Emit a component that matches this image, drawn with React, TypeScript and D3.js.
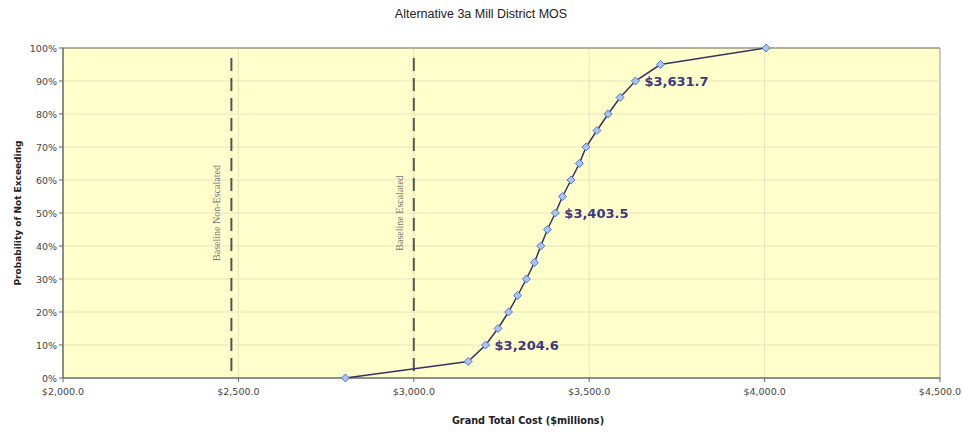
import React from "react";
import * as d3 from "d3";

const probabilities = [0, 5, 10, 15, 20, 25, 30, 35, 40, 45, 50, 55, 60, 65, 70, 75, 80, 85, 90, 95, 100];
const costs = [2805, 3155, 3204.6, 3240, 3270, 3296, 3321, 3344, 3362, 3381, 3403.5, 3424, 3448, 3472, 3491, 3522, 3554, 3588, 3631.7, 3703, 4004];
const labelledCosts = [3204.6, 3403.5, 3631.7];
const baselines = [
  { name: "Baseline Non-Escalated", value: 2480 },
  { name: "Baseline Escalated", value: 3000 },
];
const xTicks = [2000, 2500, 3000, 3500, 4000, 4500];
const yTicks = [0, 10, 20, 30, 40, 50, 60, 70, 80, 90, 100];

const W = 962;
const H = 433;
const M = { left: 63, right: 940, top: 48, bottom: 378 };

export default function App() {
  const x = d3.scaleLinear().domain([2000, 4500]).range([M.left, M.right]);
  const y = d3.scaleLinear().domain([0, 100]).range([M.bottom, M.top]);
  const pts = costs.map((c, i) => ({ c, p: probabilities[i] }));
  const line = d3.line<{ c: number; p: number }>().x((d) => x(d.c)).y((d) => y(d.p));
  const fmt = (v: number) => "$" + d3.format(",.1f")(v);
  const font = "Verdana, 'DejaVu Sans', sans-serif";

  return (
    <svg width={W} height={H} style={{ position: "absolute", left: 0, top: 0, background: "#fff" }}>
      <text x={481} y={18} textAnchor="middle" fontFamily="'Liberation Sans Narrow', 'Liberation Sans', sans-serif" fontSize={12.5} fill="#222">
        Alternative 3a Mill District MOS
      </text>
      <rect x={M.left} y={M.top} width={M.right - M.left} height={M.bottom - M.top} fill="#FFFFCC" stroke="#999" strokeWidth={1} />
      {yTicks.map((t) => (
        <line key={"gy" + t} x1={M.left} x2={M.right} y1={y(t)} y2={y(t)} stroke="#e4e4c0" strokeWidth={1} />
      ))}
      {xTicks.slice(1, -1).map((t) => (
        <line key={"gx" + t} x1={x(t)} x2={x(t)} y1={M.top} y2={M.bottom} stroke="#e4e4c0" strokeWidth={1} />
      ))}
      <line x1={M.left} x2={M.right} y1={M.top} y2={M.top} stroke="#8a8a6a" strokeWidth={1.2} />
      <line x1={M.left} x2={M.right} y1={M.bottom} y2={M.bottom} stroke="#777" strokeWidth={1.5} />
      <line x1={M.left} x2={M.left} y1={M.top} y2={M.bottom} stroke="#777" strokeWidth={1.5} />
      {yTicks.map((t) => (
        <g key={"ty" + t}>
          <line x1={M.left - 4} x2={M.left} y1={y(t)} y2={y(t)} stroke="#666" />
          <text x={M.left - 6} y={y(t) + 3.5} textAnchor="end" fontFamily={font} fontSize={9.5} fill="#444">
            {t}%
          </text>
        </g>
      ))}
      {xTicks.map((t) => (
        <g key={"tx" + t}>
          <line x1={x(t)} x2={x(t)} y1={M.bottom} y2={M.bottom + 4} stroke="#666" />
          <text x={x(t)} y={M.bottom + 17} textAnchor="middle" fontFamily={font} fontSize={9.5} fill="#444">
            {fmt(t)}
          </text>
        </g>
      ))}
      {baselines.map((b) => (
        <g key={b.name}>
          <line x1={x(b.value)} x2={x(b.value)} y1={M.top + 10} y2={M.bottom} stroke="#555" strokeWidth={2} strokeDasharray="13,7" />
          <text
            transform={`translate(${x(b.value) - 11},${y(50)}) rotate(-90)`}
            textAnchor="middle"
            fontFamily="'Liberation Serif', serif"
            fontSize={10}
            fill="#777"
          >
            {b.name}
          </text>
        </g>
      ))}
      <path d={line(pts) ?? ""} fill="none" stroke="#333366" strokeWidth={1.5} />
      {pts.map((d, i) => {
        const cx = x(d.c);
        const cy = y(d.p);
        return (
          <path
            key={"m" + i}
            d={`M${cx},${cy - 4}L${cx + 4},${cy}L${cx},${cy + 4}L${cx - 4},${cy}Z`}
            fill="#a8c4f0"
            stroke="#5a78c8"
            strokeWidth={1}
          />
        );
      })}
      {pts
        .filter((d) => labelledCosts.includes(d.c))
        .map((d) => (
          <text key={"l" + d.c} x={x(d.c) + 9} y={y(d.p) + 5} fontFamily={font} fontSize={13} fontWeight="bold" fill="#3a3a80">
            {fmt(d.c)}
          </text>
        ))}
      <text x={528} y={424} textAnchor="middle" fontFamily={font} fontSize={9.7} fontWeight="bold" fill="#222">
        Grand Total Cost ($millions)
      </text>
      <text transform={`translate(21,${y(50)}) rotate(-90)`} textAnchor="middle" fontFamily={font} fontSize={9} fontWeight="bold" fill="#222">
        Probability of Not Exceeding
      </text>
    </svg>
  );
}
